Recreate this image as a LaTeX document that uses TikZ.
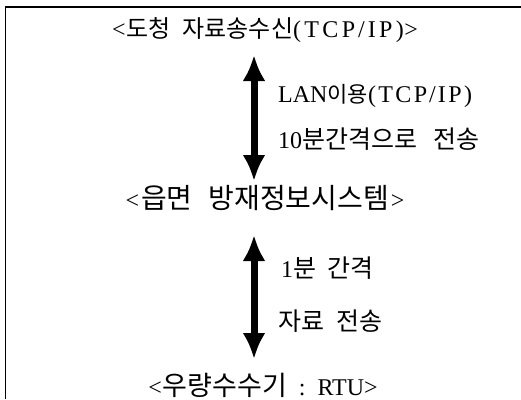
\documentclass[tikz,border=0pt]{standalone}
\usepackage{fontspec}
\setmainfont{Liberation Serif}
\newfontfamily\ko{Noto Sans CJK KR}
\newfontfamily\latsp{Liberation Serif}[LetterSpace=14]
\newfontfamily\latspb{Liberation Serif}[LetterSpace=10]
\usetikzlibrary{arrows.meta}
\newcommand\K[2][25]{{\ko\fontsize{#1}{#1}\selectfont #2}}
\newcommand\TCP{{\latsp (TCP\hspace{3pt}/\hspace{3pt}IP)}}
\newcommand\TCPb{{\latspb (TCP\hspace{2pt}/\hspace{2pt}IP)}}
\begin{document}
\begin{tikzpicture}[x=1pt,y=-1pt,
  lbl/.style={inner sep=0pt, font=\fontsize{24}{26}\selectfont},
  leftlbl/.style={lbl, anchor=west},
  bigarrow/.style={line width=7pt, {Latex[width=23pt,length=26pt]}-{Latex[width=23pt,length=26pt]}},
  frame/.style={line width=1.2pt}]
\useasboundingbox (0,0) rectangle (521,399);
\draw[frame] (5.5,399) -- (5.5,7) -- (521,7);
\node[lbl] (top) at (265,30) {<\hspace{1pt}\K[24]{도청}\hspace{12pt}\K[24]{자료송수신}\TCP\hspace{0.5pt}>};
\node[lbl] (mid) at (265,198) {<\hspace{2pt}\K[28]{읍면}\hspace{16pt}\K[28]{방재정보시스템}\hspace{2pt}>};
\node[lbl] (bot) at (263,385) {<\hspace{1pt}\K[27]{우량수수기}\hspace{12pt}:\hspace{12pt}RTU>};
\coordinate (a1t) at (254,55);
\coordinate (a1b) at (254,181);
\coordinate (a2t) at (254,235);
\coordinate (a2b) at (254,359);
\draw[bigarrow] (a1t) -- (a1b);
\draw[bigarrow] (a2t) -- (a2b);
\node[leftlbl] (l1) at (278,96) {LAN\K[22]{이용}\TCPb};
\node[leftlbl] (l2) at (278,139) {10\K{분간격으로}\hspace{16pt}\K{전송}};
\node[leftlbl] (l3) at (281,268) {1\K{분}\hspace{11pt}\K{간격}};
\node[leftlbl] (l4) at (278,321) {\K{자료}\hspace{12pt}\K{전송}};
\end{tikzpicture}
\end{document}
